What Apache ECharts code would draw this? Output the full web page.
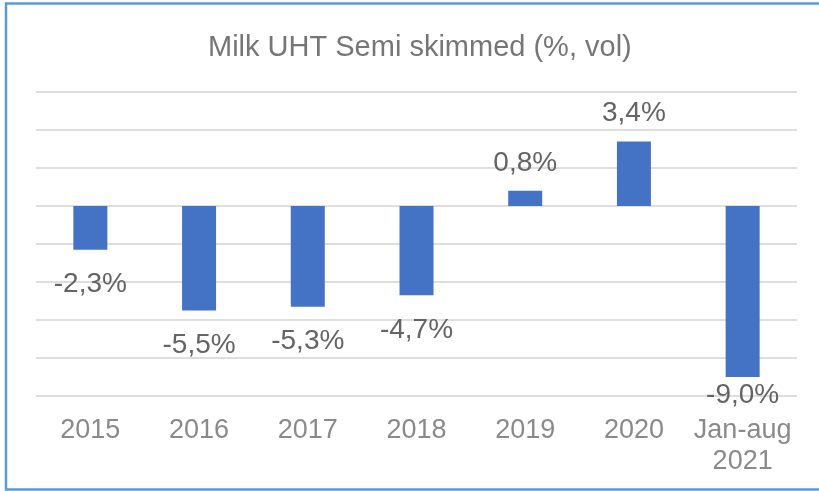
<!DOCTYPE html>
<html>
<head>
<meta charset="utf-8">
<script src="https://cdn.jsdelivr.net/npm/echarts@6/dist/echarts.min.js"></script>
<style>
  html, body { margin: 0; padding: 0; background: #fff; }
  #chart { width: 819px; height: 491px; }
</style>
</head>
<body>
<div id="chart"></div>
<script>
// Year-on-year change in volume, per period
const categories = ['2015', '2016', '2017', '2018', '2019', '2020', 'Jan-aug\n2021'];
const changePct = [-2.3, -5.5, -5.3, -4.7, 0.8, 3.4, -9.0];

const BAR_COLOR = '#4472C4';
const fmt = v => v.toFixed(1).replace('.', ',') + '%';

const barData = changePct.map((v, i) => {
  const isLast = i === changePct.length - 1;
  return {
    value: v,
    label: {
      position: v >= 0 ? 'top' : 'bottom',
      // the lowest label is kept inside the plot area
      distance: v >= 0 ? 13 : (isLast ? 3 : 20)
    }
  };
});

const chart = echarts.init(document.getElementById('chart'), null, { renderer: 'canvas' });
chart.setOption({
  animation: false,
  backgroundColor: '#ffffff',
  title: {
    text: 'Milk UHT Semi skimmed (%, vol)',
    left: 203,
    top: 28,
    textStyle: {
      fontFamily: 'Liberation Sans, Arial, sans-serif',
      fontSize: 29,
      fontWeight: 'normal',
      color: '#767676'
    }
  },
  grid: { left: 36, right: 22, top: 92, bottom: 95 },
  xAxis: {
    type: 'category',
    data: categories,
    position: 'bottom',
    axisLine: { show: false, onZero: false },
    axisTick: { show: false },
    axisLabel: {
      margin: 19,
      fontFamily: 'Liberation Sans, Arial, sans-serif',
      fontSize: 27,
      lineHeight: 31,
      color: '#8a8a8a',
      interval: 0
    }
  },
  yAxis: {
    type: 'value',
    min: -10,
    max: 6,
    interval: 2,
    axisLabel: { show: false },
    axisLine: { show: false },
    axisTick: { show: false },
    splitLine: { lineStyle: { color: '#dedede', width: 2 } }
  },
  series: [{
    type: 'bar',
    data: barData,
    barWidth: 34,
    itemStyle: { color: BAR_COLOR },
    label: {
      show: true,
      formatter: p => fmt(p.value),
      fontFamily: 'Liberation Sans, Arial, sans-serif',
      fontSize: 28,
      lineHeight: 30,
      color: '#646464'
    }
  }],
  graphic: [{
    type: 'rect',
    silent: true,
    shape: { x: 6, y: 3.5, width: 900, height: 486 },
    style: { fill: 'none', stroke: '#5B9BD5', lineWidth: 2.5 }
  }]
});
</script>
</body>
</html>
